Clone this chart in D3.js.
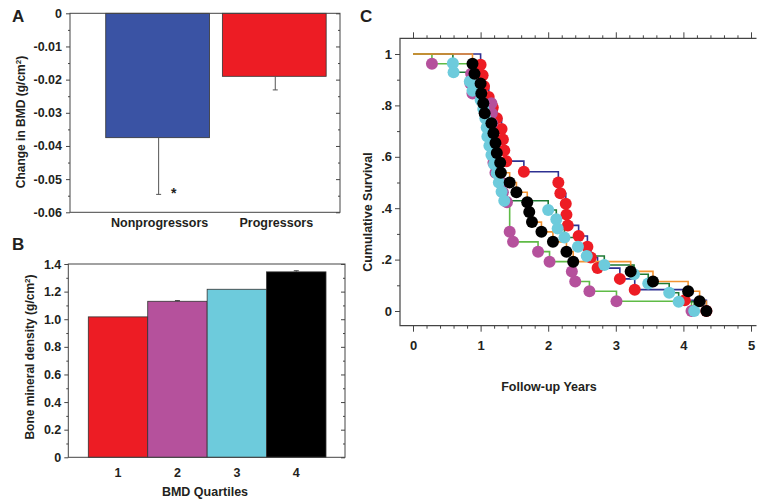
<!DOCTYPE html>
<html><head><meta charset="utf-8">
<script src="https://cdn.jsdelivr.net/npm/d3@7"></script>
<style>
body{margin:0;background:#fff}
svg text{font-family:"Liberation Sans",Arial,Helvetica,sans-serif;font-weight:bold;fill:#231f20}
</style>
</head><body>
<svg id="chart" width="757" height="501"></svg>
<script>
// ---------- Panel A data ----------
const groupsA = ["Nonprogressors", "Progressors"];
const meansA = [-0.0375, -0.019];
const errA = [0.0171, 0.0041];
const ticksA = [0, -0.01, -0.02, -0.03, -0.04, -0.05, -0.06];
const tickLabelsA = ["0", "-0.01", "-0.02", "-0.03", "-0.04", "-0.05", "-0.06"];
const colorsA = ["#3a53a4", "#ed1c24"];

// ---------- Panel B data ----------
const quartilesB = ["1", "2", "3", "4"];
const bmdB = [1.017, 1.13, 1.217, 1.343];
const errB = [0, 0.005, 0, 0.008];
const ticksB = [0, 0.2, 0.4, 0.6, 0.8, 1.0, 1.2, 1.4];
const tickLabelsB = ["0", "0.2", "0.4", "0.6", "0.8", "1.0", "1.2", "1.4"];
const colorsB = ["#ed1c24", "#b5519c", "#6dcbdc", "#000000"];

// ---------- Panel C data (time in years, cumulative survival after the event) ----------
const q1Events = [[1.00,.958],[1.03,.917],[1.05,.875],[1.12,.833],[1.18,.792],[1.24,.750],[1.31,.708],[1.33,.667],[1.35,.625],[1.38,.583],[1.64,.542],[2.15,.500],[2.18,.458],[2.26,.417],[2.27,.375],[2.29,.333],[2.45,.292],[2.58,.250],[2.63,.208],[2.73,.167],[3.06,.125],[3.28,.083],[4.02,.042],[4.34,0]];
const q2Events = [[0.28,.962],[0.86,.923],[0.85,.885],[0.88,.846],[1.16,.808],[1.165,.769],[1.17,.731],[1.175,.692],[1.18,.654],[1.185,.615],[1.19,.577],[1.22,.538],[1.31,.500],[1.33,.462],[1.39,.423],[1.43,.308],[1.48,.269],[1.85,.231],[2.02,.192],[2.35,.154],[2.40,.115],[2.61,.077],[3.01,.038],[4.12,0]];
const q3Events = [[0.59,.964],[0.60,.929],[0.84,.893],[0.88,.857],[1.00,.821],[1.04,.786],[1.07,.750],[1.09,.714],[1.10,.679],[1.13,.643],[1.16,.607],[1.20,.571],[1.24,.536],[1.27,.500],[1.31,.464],[1.35,.429],[2.00,.393],[2.12,.357],[2.14,.321],[2.24,.286],[2.44,.250],[2.57,.214],[2.83,.179],[3.27,.143],[3.48,.107],[3.79,.071],[3.93,.036],[4.16,0]];
const q4Events = [[0.88,.962],[0.91,.923],[1.00,.885],[1.01,.846],[1.04,.808],[1.06,.769],[1.16,.731],[1.19,.692],[1.22,.654],[1.24,.615],[1.29,.577],[1.30,.538],[1.43,.500],[1.53,.462],[1.69,.423],[1.72,.385],[1.76,.346],[1.90,.308],[2.07,.269],[2.27,.231],[2.37,.192],[3.22,.154],[3.55,.115],[4.07,.077],[4.24,.038],[4.34,0]];
const lineColorsC = ["#2e3192", "#5fbb46", "#1e7a34", "#f39433"];
const dotColorsC = ["#ed1c24", "#b5519c", "#6dcbdc", "#000000"];
const ticksCx = [0, 1, 2, 3, 4, 5];
const tickLabelsCx = ["0", "1", "2", "3", "4", "5"];
const ticksCy = [0, 0.2, 0.4, 0.6, 0.8, 1];
const tickLabelsCy = ["0", ".2", ".4", ".6", ".8", "1"];

const svg = d3.select("#chart");
const frameColor = "#444";

function styleAxis(g, size) {
  g.select(".domain").remove();
  g.selectAll(".tick line").attr("stroke", frameColor);
  g.selectAll(".tick text").attr("font-size", size || 12).attr("fill", "#231f20");
}
function frame(x0, y0, x1, y1) {
  svg.append("rect").attr("x", x0).attr("y", y0).attr("width", x1 - x0).attr("height", y1 - y0)
    .attr("fill", "none").attr("stroke", frameColor).attr("stroke-width", 1);
}
function minorVals(major) {
  const out = [];
  for (let i = 0; i < major.length - 1; i++) out.push((major[i] + major[i + 1]) / 2);
  return out;
}

// ================= Panel A =================
{
  const L = 70, R = 340, T = 13.3, B = 212.3;
  const x = d3.scaleBand().domain(groupsA).range([99.9, 332]).paddingInner(0.11).paddingOuter(0.05);
  const y = d3.scaleLinear().domain([-0.06, 0]).range([B, T]);
  svg.append("g").selectAll("rect").data(groupsA).join("rect")
    .attr("x", d => x(d)).attr("width", x.bandwidth())
    .attr("y", y(0)).attr("height", (d, i) => y(meansA[i]) - y(0))
    .attr("fill", (d, i) => colorsA[i]).attr("stroke", "#333").attr("stroke-width", 0.8);
  const eb = svg.append("g").attr("stroke", "#555").attr("stroke-width", 1);
  groupsA.forEach((g, i) => {
    const cx = x(g) + x.bandwidth() / 2 + 1;
    eb.append("line").attr("x1", cx).attr("x2", cx).attr("y1", y(meansA[i])).attr("y2", y(meansA[i] - errA[i]));
    eb.append("line").attr("x1", cx - 2.5).attr("x2", cx + 2.5).attr("y1", y(meansA[i] - errA[i])).attr("y2", y(meansA[i] - errA[i]));
  });
  frame(L, T, R, B);
  const ax = svg.append("g").attr("transform", `translate(${L},0)`)
    .call(d3.axisLeft(y).tickValues(ticksA).tickFormat((d, i) => tickLabelsA[i]).tickSize(4).tickPadding(4));
  styleAxis(ax, 12.5);
  const axm = svg.append("g").attr("transform", `translate(${L},0)`)
    .call(d3.axisLeft(y).tickValues(minorVals(ticksA)).tickFormat("").tickSize(2));
  styleAxis(axm);
  const ar = svg.append("g").attr("transform", `translate(${R},0)`)
    .call(d3.axisRight(y).tickValues(ticksA).tickFormat("").tickSize(-4));
  styleAxis(ar);
  const arm = svg.append("g").attr("transform", `translate(${R},0)`)
    .call(d3.axisRight(y).tickValues(minorVals(ticksA)).tickFormat("").tickSize(-2));
  styleAxis(arm);
  groupsA.forEach(g => {
    svg.append("text").attr("x", x(g) + x.bandwidth() / 2 + 2).attr("y", 227)
      .attr("text-anchor", "middle").attr("font-size", 12.5).text(g);
  });
  svg.append("text").attr("x", x(groupsA[0]) + x.bandwidth() / 2 + 16).attr("y", 198)
    .attr("text-anchor", "middle").attr("font-size", 14).text("*");
  svg.append("text").attr("transform", "translate(25,122) rotate(-90)").attr("text-anchor", "middle")
    .attr("font-size", 12).html('Change in BMD (g/cm<tspan dy="-4" font-size="8">2</tspan><tspan dy="4">)</tspan>');
  svg.append("text").attr("x", 12).attr("y", 22).attr("font-size", 17).text("A");
}

// ================= Panel B =================
{
  const L = 68.3, R = 345, T = 264, B = 457.3;
  const x = d3.scaleBand().domain(quartilesB).range([88.3, 326]).padding(0);
  const y = d3.scaleLinear().domain([0, 1.4]).range([B, T]);
  svg.append("g").selectAll("rect").data(quartilesB).join("rect")
    .attr("x", d => x(d)).attr("width", x.bandwidth())
    .attr("y", (d, i) => y(bmdB[i])).attr("height", (d, i) => y(0) - y(bmdB[i]))
    .attr("fill", (d, i) => colorsB[i]).attr("stroke", "#333").attr("stroke-width", 0.8);
  const eb = svg.append("g").attr("stroke", "#444").attr("stroke-width", 1);
  quartilesB.forEach((q, i) => {
    if (errB[i] > 0) {
      const cx = x(q) + x.bandwidth() / 2;
      eb.append("line").attr("x1", cx).attr("x2", cx).attr("y1", y(bmdB[i])).attr("y2", y(bmdB[i] + errB[i]));
      eb.append("line").attr("x1", cx - 2.5).attr("x2", cx + 2.5).attr("y1", y(bmdB[i] + errB[i])).attr("y2", y(bmdB[i] + errB[i]));
    }
  });
  frame(L, T, R, B);
  const ax = svg.append("g").attr("transform", `translate(${L},0)`)
    .call(d3.axisLeft(y).tickValues(ticksB).tickFormat((d, i) => tickLabelsB[i]).tickSize(4).tickPadding(3));
  styleAxis(ax, 12.5);
  const axm = svg.append("g").attr("transform", `translate(${L},0)`)
    .call(d3.axisLeft(y).tickValues(minorVals(ticksB)).tickFormat("").tickSize(2));
  styleAxis(axm);
  const ar = svg.append("g").attr("transform", `translate(${R},0)`)
    .call(d3.axisRight(y).tickValues(ticksB).tickFormat("").tickSize(-4));
  styleAxis(ar);
  const arm = svg.append("g").attr("transform", `translate(${R},0)`)
    .call(d3.axisRight(y).tickValues(minorVals(ticksB)).tickFormat("").tickSize(-2));
  styleAxis(arm);
  const xb = svg.append("g").attr("transform", `translate(0,${B})`)
    .call(d3.axisBottom(x).tickSize(0).tickPadding(11));
  styleAxis(xb, 12.5);
  svg.append("text").attr("x", 205).attr("y", 496).attr("text-anchor", "middle").attr("font-size", 12.5).text("BMD Quartiles");
  svg.append("text").attr("transform", "translate(34,357) rotate(-90)").attr("text-anchor", "middle")
    .attr("font-size", 12).html('Bone mineral density (g/cm<tspan dy="-4" font-size="8">2</tspan><tspan dy="4">)</tspan>');
  svg.append("text").attr("x", 12).attr("y", 250).attr("font-size", 17).text("B");
}

// ================= Panel C =================
{
  const L = 400, R = 756.5, T = 38.3, B = 325.7;
  const x = d3.scaleLinear().domain([0, 5]).range([413, 751]);
  const y = d3.scaleLinear().domain([0, 1]).range([311, 54]);
  const series = [q1Events, q2Events, q3Events, q4Events];
  const line = d3.line().x(d => x(d[0])).y(d => y(d[1])).curve(d3.curveStepAfter);
  series.forEach((ev, i) => {
    const pts = [[0, 1]].concat(ev.slice().sort((a, b) => a[0] - b[0] || b[1] - a[1]));
    svg.append("path").attr("d", line(pts)).attr("fill", "none")
      .attr("stroke", lineColorsC[i]).attr("stroke-width", 1.6);
  });
  series.forEach((ev, i) => {
    svg.append("g").selectAll("circle").data(ev).join("circle")
      .attr("cx", d => x(d[0])).attr("cy", d => y(d[1])).attr("r", 6)
      .attr("fill", dotColorsC[i]);
  });
  svg.append("path").attr("d", `M${R},${T}H${L}V${B}H${R}`).attr("fill", "none").attr("stroke", frameColor).attr("stroke-width", 1.2);
  const minorX = d3.range(0, 5.01, 0.2).filter(v => Math.abs(v - Math.round(v)) > 1e-6);
  const top = svg.append("g").attr("transform", `translate(0,${T})`)
    .call(d3.axisTop(x).tickValues(ticksCx).tickFormat("").tickSize(6));
  styleAxis(top);
  const topm = svg.append("g").attr("transform", `translate(0,${T})`)
    .call(d3.axisTop(x).tickValues(minorX).tickFormat("").tickSize(3));
  styleAxis(topm);
  const bot = svg.append("g").attr("transform", `translate(0,${B})`)
    .call(d3.axisBottom(x).tickValues(ticksCx).tickFormat((d, i) => tickLabelsCx[i]).tickSize(6).tickPadding(9));
  styleAxis(bot, 13);
  const botm = svg.append("g").attr("transform", `translate(0,${B})`)
    .call(d3.axisBottom(x).tickValues(minorX).tickFormat("").tickSize(3));
  styleAxis(botm);
  const lft = svg.append("g").attr("transform", `translate(${L},0)`)
    .call(d3.axisLeft(y).tickValues(ticksCy).tickFormat((d, i) => tickLabelsCy[i]).tickSize(5).tickPadding(3));
  styleAxis(lft, 13);
  const lftm = svg.append("g").attr("transform", `translate(${L},0)`)
    .call(d3.axisLeft(y).tickValues([0.1, 0.3, 0.5, 0.7, 0.9]).tickFormat("").tickSize(3));
  styleAxis(lftm);
  svg.append("text").attr("transform", "translate(372,212) rotate(-90)").attr("text-anchor", "middle")
    .attr("font-size", 12.5).text("Cumulative Survival");
  svg.append("text").attr("x", 549).attr("y", 391).attr("text-anchor", "middle").attr("font-size", 12.5).text("Follow-up Years");
  svg.append("text").attr("x", 360).attr("y", 22).attr("font-size", 17).text("C");
}
</script>
</body></html>
